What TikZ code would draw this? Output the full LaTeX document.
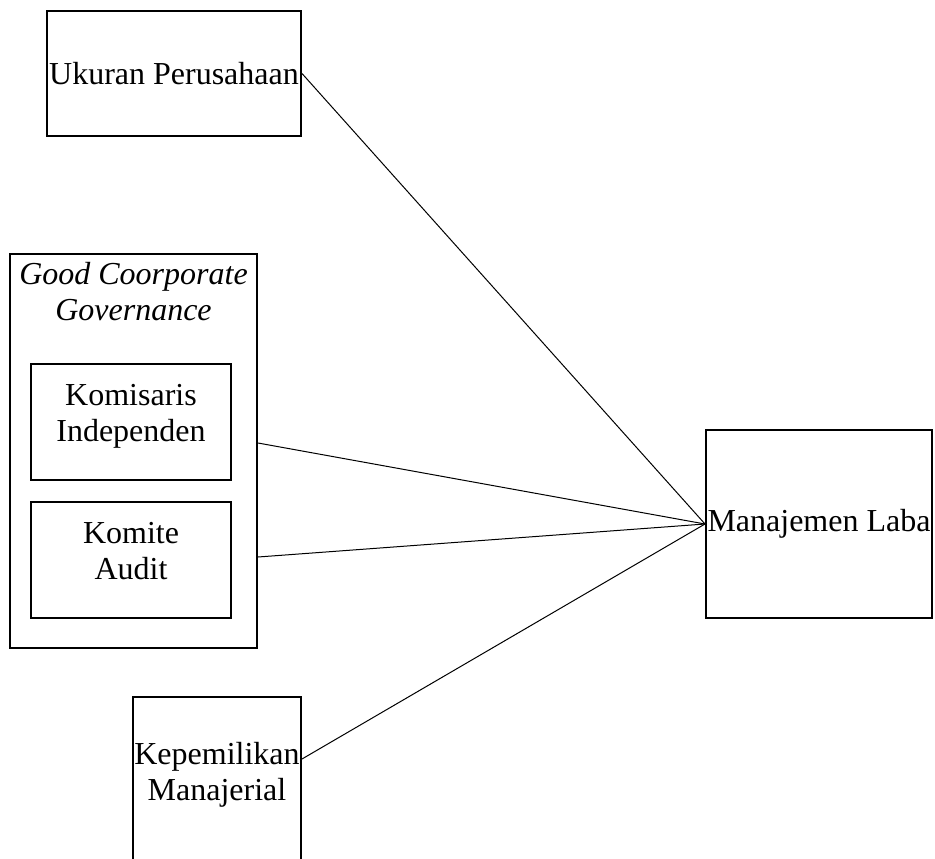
\documentclass[tikz,border=0pt]{standalone}
\usepackage{fontspec}
\setmainfont{Liberation Serif}
\usetikzlibrary{positioning}
\tikzset{
    box/.style={rectangle,draw,line width=2pt,inner sep=0pt,align=center,font=\fontsize{32}{36}\selectfont},
    boxtext/.style={rectangle,draw=none,inner sep=0pt,align=center,font=\fontsize{32}{36}\selectfont},
    link/.style={line width=1pt},
}

\begin{document}
\begin{tikzpicture}[x=1pt,y=-1pt]
        \clip (0,0) rectangle (935,859);
        \node[box,minimum width=254,minimum height=125] (ukuran) at (174,73.5) {Ukuran Perusahaan};
        \node[box,minimum width=247,minimum height=394] (gcg) at (133.5,451) {};
        \node[boxtext,font=\fontsize{32}{36}\selectfont\itshape] (gcgtitle) at (133.5,292) {Good Coorporate\\Governance};
        \node[box,minimum width=200,minimum height=116] (komisaris) at (131,422) {};
        \node[boxtext] (komisaristext) at (131,416) {Komisaris\\Independen};
        \node[box,minimum width=200,minimum height=116] (komite) at (131,560) {};
        \node[boxtext] (komitetext) at (131,551) {Komite\\Audit};
        \node[box,minimum width=226,minimum height=188] (laba) at (819,524) {Manajemen Laba};
        \node[box,minimum width=168,minimum height=190] (kepbox) at (217,792) {};
        \node[boxtext] (kepemilikan) at (217,775) {Kepemilikan\\Manajerial};
        \coordinate (kepout) at ([yshift=-63pt]kepbox.north east);

        \draw[link] (ukuran.east) -- (laba.west);
        \draw[link] ([yshift=8pt]gcg.east) -- (laba.west);
        \draw[link] ([yshift=-106pt]gcg.east) -- (laba.west);
        \draw[link] (kepout) -- (laba.west);
\end{tikzpicture}
\end{document}
